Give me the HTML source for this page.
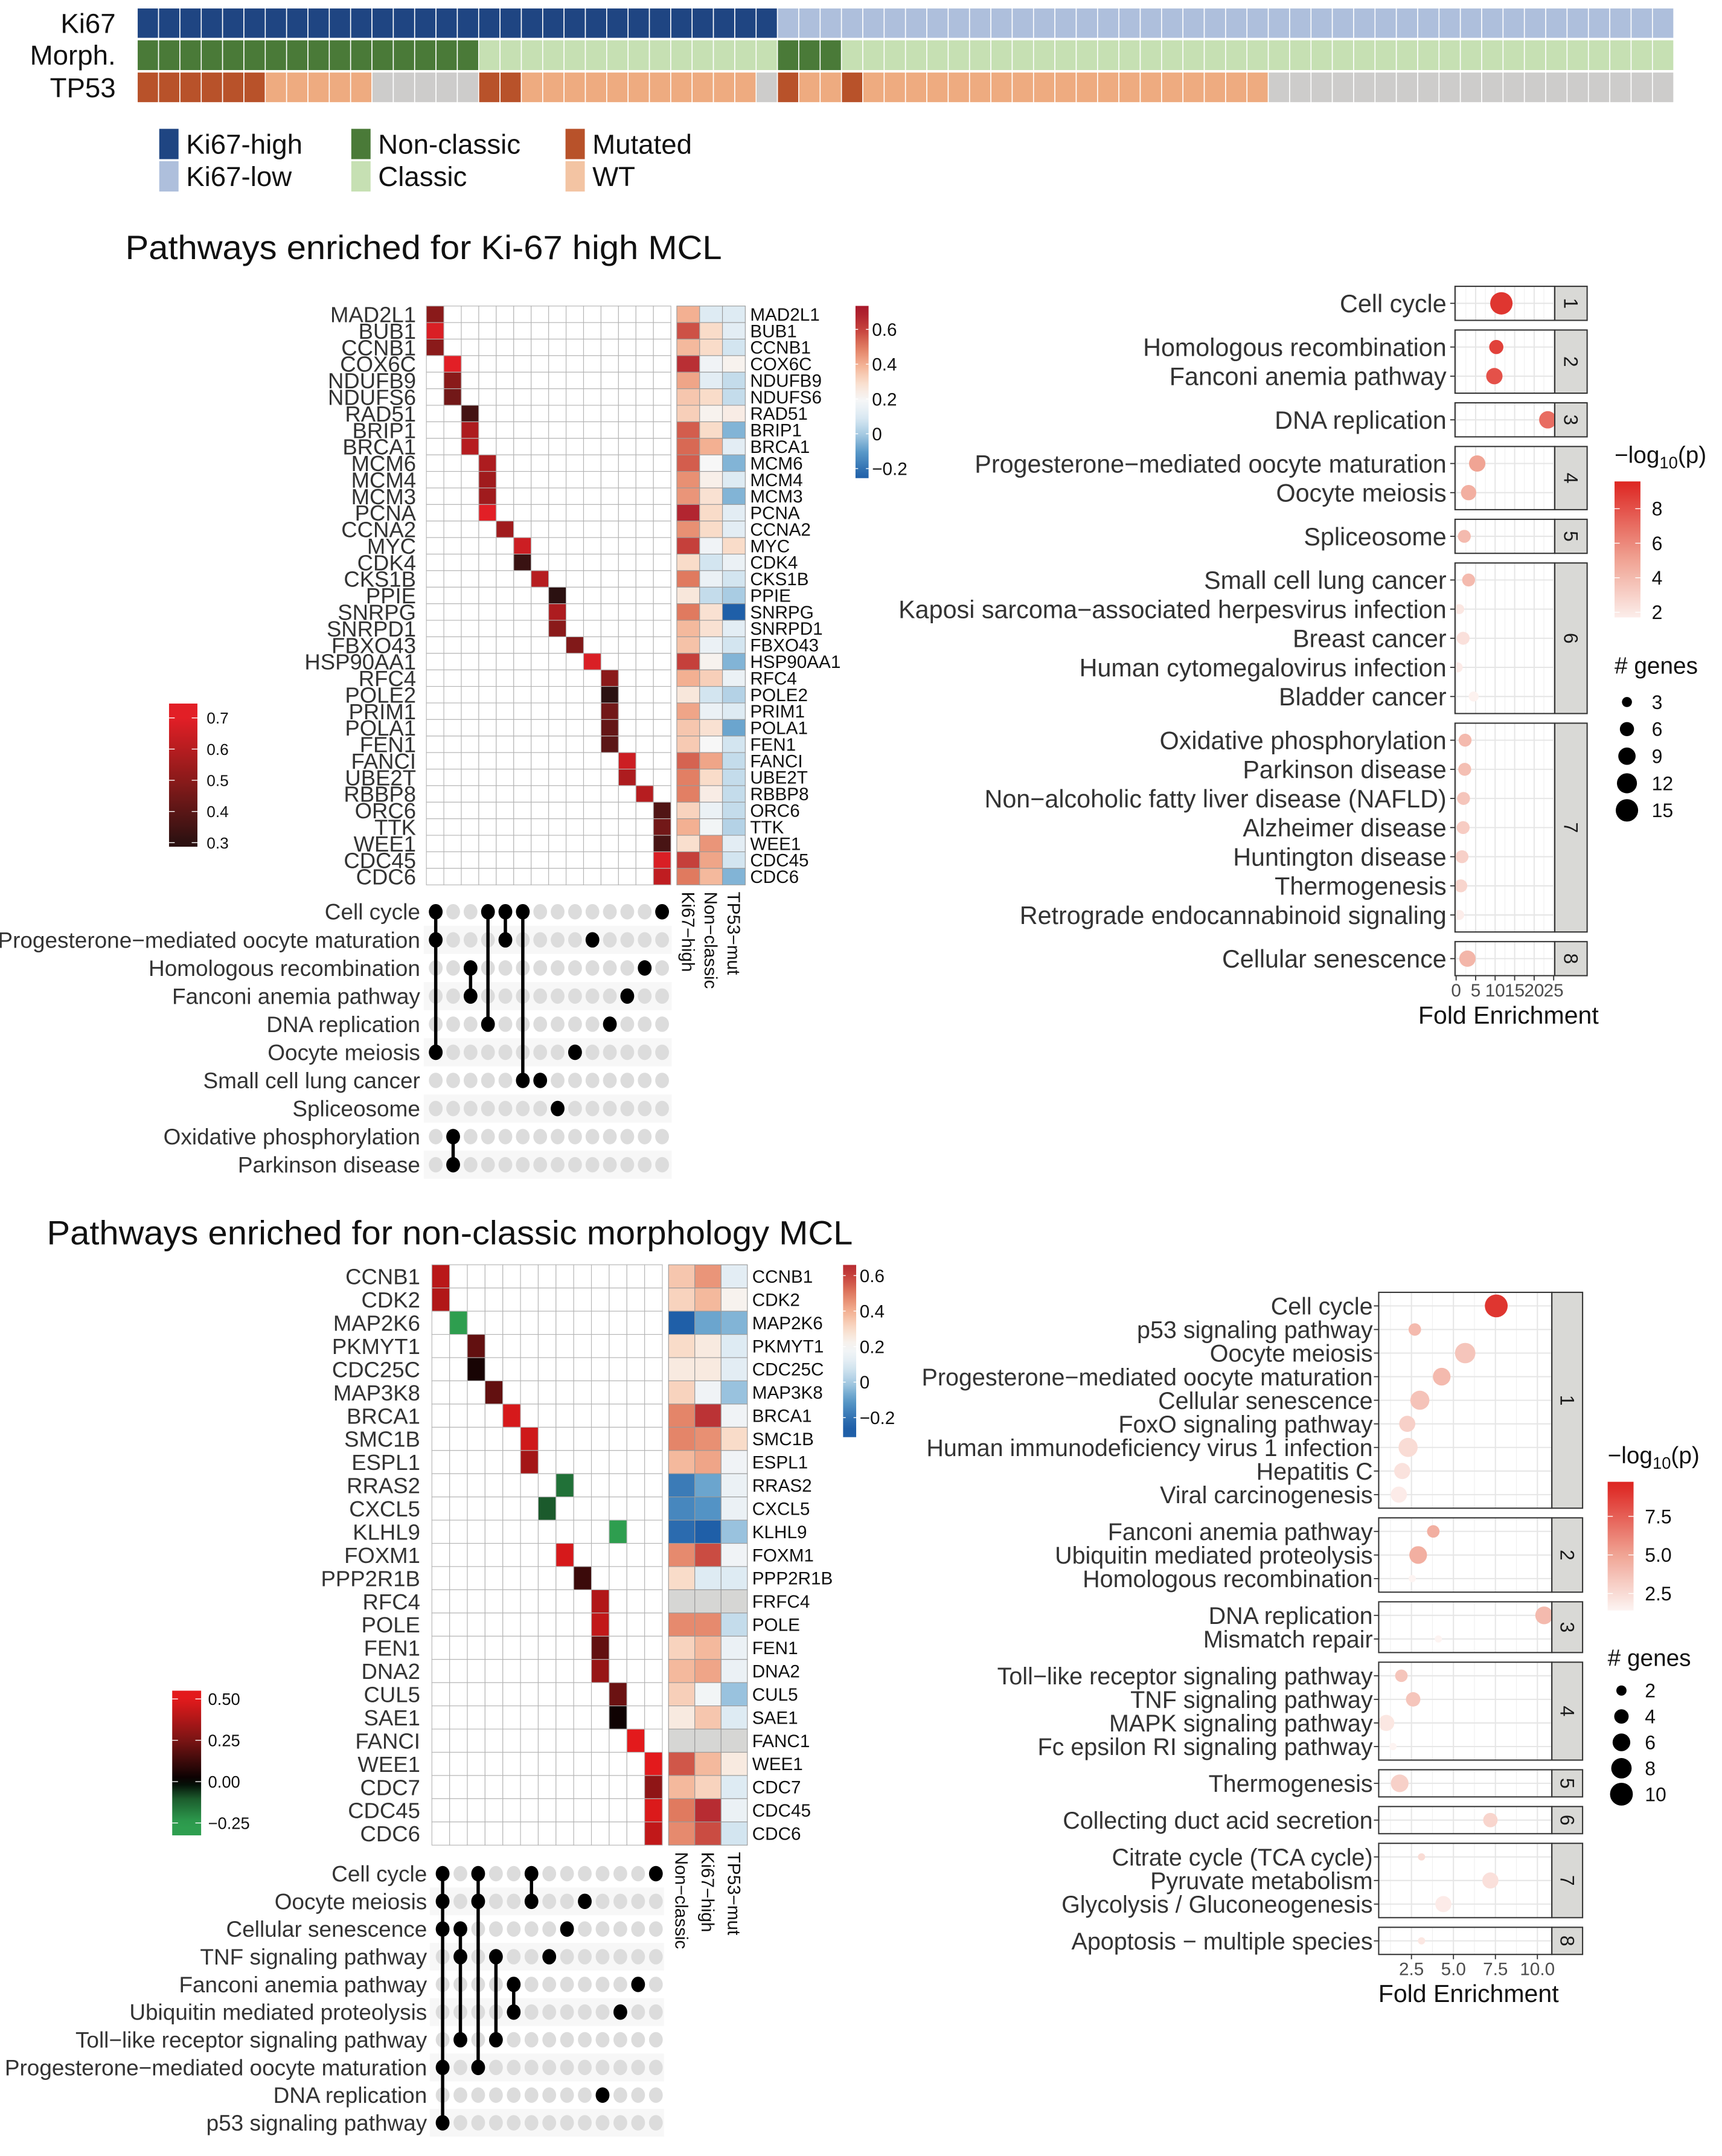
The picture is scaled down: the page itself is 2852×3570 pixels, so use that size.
<!DOCTYPE html>
<html><head><meta charset="utf-8">
<style>
body{margin:0;background:#fff}
svg{display:block}
text{font-family:"Liberation Sans",Arial,sans-serif}
</style></head>
<body>
<svg id="fig" width="2852" height="3570" viewBox="0 0 1250 1564.7" preserveAspectRatio="none" xmlns="http://www.w3.org/2000/svg">
<defs id="defs"></defs>
<rect x="0" y="0" width="1250" height="1565" fill="#fff"/>
<g id="root"></g>
</svg>
<script>
// ---------- top annotation data (runs of samples) ----------
const ki67Runs = [['high',30],['low',42]];
const morphRuns = [['non',16],['cls',14],['non',3],['cls',39]];
const tp53Runs = [['mut',6],['wt',5],['na',5],['mut',2],['wt',11],['na',1],['mut',1],['wt',2],['mut',1],['wt',19],['na',19]];

// ---------- heatmap 1 ----------
const h1Genes = ['MAD2L1','BUB1','CCNB1','COX6C','NDUFB9','NDUFS6','RAD51','BRIP1','BRCA1','MCM6','MCM4','MCM3','PCNA','CCNA2','MYC','CDK4','CKS1B','PPIE','SNRPG','SNRPD1','FBXO43','HSP90AA1','RFC4','POLE2','PRIM1','POLA1','FEN1','FANCI','UBE2T','RBBP8','ORC6','TTK','WEE1','CDC45','CDC6'];
const h1Col = [0,0,0,1,1,1,2,2,2,3,3,3,3,4,5,5,6,7,7,7,8,9,10,10,10,10,10,11,11,12,13,13,13,13,13];
const h1Corr = [0.5,0.68,0.5,0.7,0.5,0.45,0.35,0.58,0.6,0.58,0.55,0.55,0.7,0.55,0.65,0.33,0.6,0.3,0.58,0.5,0.48,0.68,0.5,0.3,0.45,0.42,0.4,0.65,0.58,0.6,0.38,0.45,0.36,0.68,0.62];
const h1Ki67 = [0.4,0.57,0.38,0.65,0.42,0.35,0.33,0.55,0.53,0.55,0.46,0.45,0.68,0.46,0.6,0.3,0.5,0.26,0.5,0.38,0.36,0.6,0.4,0.26,0.42,0.35,0.34,0.54,0.49,0.49,0.32,0.4,0.29,0.6,0.5];
const h1NonCl = [0.1,0.3,0.3,0.17,0.12,0.3,0.22,0.3,0.4,0.2,0.23,0.28,0.3,0.3,0.17,0.08,0.15,0.05,0.28,0.28,0.15,0.22,0.33,0.08,0.15,0.28,0.2,0.42,0.3,0.24,0.15,0.18,0.45,0.42,0.38];
const h1Tp53 = [0.1,0.12,0.08,0.22,0.05,0.05,0.24,-0.05,0.12,-0.05,0.1,-0.05,0.12,0.12,0.3,0.15,0.08,0.0,-0.25,0.12,0.08,-0.05,0.15,0.02,0.1,-0.08,0.08,0.05,0.05,0.05,0.05,0.02,0.12,0.08,-0.05];
const h1AnnoLabels = ['Ki67−high','Non−classic','TP53−mut'];

// ---------- upset 1 ----------
const u1Terms = ['Cell cycle','Progesterone−mediated oocyte maturation','Homologous recombination','Fanconi anemia pathway','DNA replication','Oocyte meiosis','Small cell lung cancer','Spliceosome','Oxidative phosphorylation','Parkinson disease'];
const u1Sets = [[0,3,4,5,13],[0,4,9],[2,12],[2,11],[3,10],[0,8],[5,6],[7],[1],[1]];

// ---------- dot plot 1 ----------
const d1Terms = ['Cell cycle','Homologous recombination','Fanconi anemia pathway','DNA replication','Progesterone−mediated oocyte maturation','Oocyte meiosis','Spliceosome','Small cell lung cancer','Kaposi sarcoma−associated herpesvirus infection','Breast cancer','Human cytomegalovirus infection','Bladder cancer','Oxidative phosphorylation','Parkinson disease','Non−alcoholic fatty liver disease (NAFLD)','Alzheimer disease','Huntington disease','Thermogenesis','Retrograde endocannabinoid signaling','Cellular senescence'];
const d1Cluster = [1,2,2,3,4,4,5,6,6,6,6,6,7,7,7,7,7,7,7,8];
const d1FE = [11.6,10.3,9.8,23.5,5.4,3.2,2.1,3.2,0.8,1.8,0.4,4.5,2.3,2.2,1.9,1.8,1.5,1.2,0.8,2.9];
const d1LogP = [9,8.6,8,7,5,4.5,4,4,2,2.3,1.8,1.5,4,3.8,3.5,3.2,3,2.8,1.7,4.2];
const d1Genes = [15,6,8,9,8,7,5,5,3,5,3,3,5,5,5,5,5,5,3,8];
const d1XTicks = [0,5,10,15,20,25];
const d1ColorTicks = [2,4,6,8];
const d1SizeTicks = [3,6,9,12,15];

// ---------- heatmap 2 ----------
const h2Genes = ['CCNB1','CDK2','MAP2K6','PKMYT1','CDC25C','MAP3K8','BRCA1','SMC1B','ESPL1','RRAS2','CXCL5','KLHL9','FOXM1','PPP2R1B','RFC4','POLE','FEN1','DNA2','CUL5','SAE1','FANCI','WEE1','CDC7','CDC45','CDC6'];
const h2RightLabels = ['CCNB1','CDK2','MAP2K6','PKMYT1','CDC25C','MAP3K8','BRCA1','SMC1B','ESPL1','RRAS2','CXCL5','KLHL9','FOXM1','PPP2R1B','FRFC4','POLE','FEN1','DNA2','CUL5','SAE1','FANC1','WEE1','CDC7','CDC45','CDC6'];
const h2Col = [0,0,1,2,2,3,4,5,5,7,6,10,7,8,9,9,9,9,10,10,11,12,12,12,12];
const h2Corr = [0.4,0.38,-0.25,0.2,0.05,0.2,0.47,0.45,0.35,-0.15,-0.1,-0.25,0.47,0.12,0.38,0.42,0.2,0.32,0.22,0.03,0.5,0.52,0.3,0.48,0.42];
const h2NonCl = [0.35,0.32,-0.25,0.3,0.25,0.32,0.48,0.48,0.38,-0.18,-0.15,-0.22,0.47,0.3,null,0.47,0.32,0.38,0.33,0.25,null,0.56,0.38,0.5,0.47];
const h2Ki67 = [0.45,0.38,-0.08,0.25,0.25,0.17,0.64,0.46,0.42,-0.08,-0.12,-0.25,0.58,0.1,null,0.47,0.38,0.42,0.18,0.35,null,0.38,0.32,0.66,0.58];
const h2Tp53 = [0.12,0.22,-0.05,0.1,0.12,-0.02,0.17,0.3,0.17,0.15,0.15,-0.02,0.17,0.1,null,0.05,0.15,0.15,-0.02,0.1,null,0.25,0.1,0.15,0.08];
const h2AnnoLabels = ['Non−classic','Ki67−high','TP53−mut'];

// ---------- upset 2 ----------
const u2Terms = ['Cell cycle','Oocyte meiosis','Cellular senescence','TNF signaling pathway','Fanconi anemia pathway','Ubiquitin mediated proteolysis','Toll−like receptor signaling pathway','Progesterone−mediated oocyte maturation','DNA replication','p53 signaling pathway'];
const u2Sets = [[0,2,5,12],[0,2,5,8],[0,1,7],[1,3,6],[4,11],[4,10],[1,3],[0,2],[9],[0]];

// ---------- dot plot 2 ----------
const d2Terms = ['Cell cycle','p53 signaling pathway','Oocyte meiosis','Progesterone−mediated oocyte maturation','Cellular senescence','FoxO signaling pathway','Human immunodeficiency virus 1 infection','Hepatitis C','Viral carcinogenesis','Fanconi anemia pathway','Ubiquitin mediated proteolysis','Homologous recombination','DNA replication','Mismatch repair','Toll−like receptor signaling pathway','TNF signaling pathway','MAPK signaling pathway','Fc epsilon RI signaling pathway','Thermogenesis','Collecting duct acid secretion','Citrate cycle (TCA cycle)','Pyruvate metabolism','Glycolysis / Gluconeogenesis','Apoptosis − multiple species'];
const d2Cluster = [1,1,1,1,1,1,1,1,1,2,2,2,3,3,4,4,4,4,5,6,7,7,7,8];
const d2FE = [7.55,2.7,5.7,4.3,3.0,2.25,2.3,1.95,1.75,3.8,2.9,2.55,10.4,4.1,1.9,2.6,1.0,1.4,1.8,7.2,3.1,7.2,4.4,3.1];
const d2LogP = [9,4,3.5,4,3.6,3,2.5,2.2,1.8,4.5,4.5,1.2,4,1.3,3.5,3.5,2,1.3,3,2.8,2.5,2.3,1.8,2];
const d2Genes = [10,3,8,6,7,5,7,5,5,3,6,1,6,1,3,4,5,1,6,4,1,5,5,1];
const d2XTicks = [2.5,5.0,7.5,10.0];
const d2ColorTicks = [2.5,5.0,7.5];
const d2SizeTicks = [2,4,6,8,10];

// ================= drawing =================
const NS = 'http://www.w3.org/2000/svg';
const root = document.getElementById('root');
const defs = document.getElementById('defs');
function mk(tag, attrs, parent){const e=document.createElementNS(NS,tag);for(const k in attrs)e.setAttribute(k,attrs[k]);(parent||root).appendChild(e);return e;}
function txt(s,x,y,size,anchor,extra,parent){const t=mk('text',Object.assign({x:x,y:y,'font-size':size,'text-anchor':anchor||'start',fill:'#333'},extra||{}),parent);t.textContent=s;return t;}
function hex(c){return [parseInt(c.substr(1,2),16),parseInt(c.substr(3,2),16),parseInt(c.substr(5,2),16)];}
function interp(stops,v){
  if(v<=stops[0][0])return stops[0][1];
  if(v>=stops[stops.length-1][0])return stops[stops.length-1][1];
  for(let i=0;i<stops.length-1;i++){const a=stops[i],b=stops[i+1];if(v>=a[0]&&v<=b[0]){const t=(v-a[0])/(b[0]-a[0]);const A=hex(a[1]),B=hex(b[1]);return 'rgb('+A.map((x,j)=>Math.round(x+(B[j]-x)*t)).join(',')+')';}}
}
const DIV = [[-0.25,'#1f5fa8'],[-0.1,'#5b9bc9'],[0.0,'#a9cce3'],[0.1,'#deebf3'],[0.2,'#f7f7f7'],[0.3,'#f9dcc9'],[0.4,'#f3b092'],[0.5,'#e07a5f'],[0.6,'#c5403b'],[0.72,'#a8182a']];
const RED1 = [[0.3,'#2b1111'],[0.5,'#8a1a1a'],[0.7,'#e21f26']];
const RG = [[-0.25,'#2e9e4f'],[-0.1,'#1b5a2c'],[0,'#000000'],[0.25,'#7a1414'],[0.5,'#e31a1c']];
const PCOL = [[1.4,'#fdf4f2'],[5,'#f0a494'],[9.6,'#dd2521']];
let gradN=0;
function vGrad(stops,vTop,vBot){
  const id='g'+(gradN++);
  const g=mk('linearGradient',{id:id,x1:0,y1:0,x2:0,y2:1},defs);
  for(let i=0;i<=20;i++){const v=vTop+(vBot-vTop)*i/20;mk('stop',{offset:(i*5)+'%','stop-color':interp(stops,v)},g);}
  return 'url(#'+id+')';
}

// ---- top annotation ----
(function(){
  const x0=99.6,x1=1215,n=72,cw=(x1-x0)/n;
  const rows=[[ki67Runs,5.8,22,{high:'#1f4582',low:'#aebfdc'},'ki67'],[morphRuns,28.9,22.3,{non:'#4a7a38',cls:'#c6e0b3'},'morphology'],[tp53Runs,52.3,22.2,{mut:'#b8522a',wt:'#eeab80',na:'#cdcccb'},'tp53']];
  const g=mk('g',{});
  
  
  rows.forEach(function(r){
    let k=0;
    r[0].forEach(function(run){
      for(let j=0;j<run[1];j++){
        const c=mk('rect',{x:x0+k*cw,y:r[1],width:cw,height:r[2],fill:r[3][run[0]],stroke:'#fff','stroke-width':0.7},g);
        
        
        k++;
      }
    });
  });
  const labs=[['Ki67',24],['Morph.',47],['TP53',70.5]];
  labs.forEach(function(l){const t=txt(l[0],84,l[1],20,'end',{fill:'#111'});
    
    });
  const leg=[[115.6,93.5,'#1f4582','Ki67-high'],[115.6,117,'#aebfdc','Ki67-low'],[255,93.5,'#4a7a38','Non-classic'],[255,117,'#c6e0b3','Classic'],[410.5,93.5,'#b8522a','Mutated'],[410.5,117,'#f3c4a3','WT']];
  leg.forEach(function(l){
    const s=mk('rect',{x:l[0],y:l[1],width:14,height:22,fill:l[2]});
    
    
    const t=txt(l[3],l[0]+19.5,l[1]+18,20,'start',{fill:'#111'});
    
    
  });
})();

// ---- titles ----
(function(){
  const t1=txt('Pathways enriched for Ki-67 high MCL',91,188,24.5,'start',{fill:'#111',textLength:433,lengthAdjust:'spacingAndGlyphs'});
  
  
  const t2=txt('Pathways enriched for non-classic morphology MCL',34,903,24.5,'start',{fill:'#111',textLength:585,lengthAdjust:'spacingAndGlyphs'});
  
  
})();

// ---- gene heatmap ----
function geneHeatmap(cfg){
  const g=mk('g',{});
  
  
  const n=cfg.genes.length, rh=(cfg.y1-cfg.y0)/n, cw=(cfg.x1-cfg.x0)/cfg.ncol;
  for(let i=0;i<n;i++){
    for(let j=0;j<cfg.ncol;j++){
      const on=cfg.col[i]===j;
      const c=mk('rect',{x:cfg.x0+j*cw,y:cfg.y0+i*rh,width:cw,height:rh,fill:on?interp(cfg.scale,cfg.corr[i]):'#fff',stroke:'#b5b5b5','stroke-width':0.5},g);
      
      
    }
    const lt=txt(cfg.genes[i],cfg.lx,cfg.y0+(i+0.5)*rh+cfg.lsz*0.36,cfg.lsz,'end',{},g);
    
    
    const aw=(cfg.ax1-cfg.ax0)/3;
    [cfg.a1,cfg.a2,cfg.a3].forEach(function(arr,j){
      const v=arr[i];
      const c=mk('rect',{x:cfg.ax0+j*aw,y:cfg.y0+i*rh,width:aw,height:rh,fill:v===null?'#d6d6d4':interp(DIV,v),stroke:'#9a9a9a','stroke-width':0.5},g);
      
      
    });
    const rt=txt(cfg.rlabels[i],cfg.rx,cfg.y0+(i+0.5)*rh+4.6,13,'start',{fill:'#111'},g);
    
    
  }
  const aw=(cfg.ax1-cfg.ax0)/3;
  cfg.alabels.forEach(function(s,j){
    const x=cfg.ax0+(j+0.5)*aw-4.6, y=cfg.y1+5;
    const t=txt(s,x,y,13,'start',{fill:'#111',transform:'rotate(90 '+x+' '+y+')'},g);
    
    
  });
}
geneHeatmap({name:'gene-heatmap-ki67',genes:h1Genes,rlabels:h1Genes,col:h1Col,corr:h1Corr,scale:RED1,ncol:14,x0:309.5,x1:487,y0:222.1,y1:642.2,lx:302,lsz:16,ax0:491.3,ax1:541,a1:h1Ki67,a2:h1NonCl,a3:h1Tp53,rx:544.5,alabels:h1AnnoLabels});
geneHeatmap({name:'gene-heatmap-morphology',genes:h2Genes,rlabels:h2RightLabels,col:h2Col,corr:h2Corr,scale:RG,ncol:13,x0:313.5,x1:480.8,y0:917.9,y1:1339.1,lx:305,lsz:16,ax0:485.3,ax1:542.5,a1:h2NonCl,a2:h2Ki67,a3:h2Tp53,rx:546,alabels:h2AnnoLabels});

// ---- colorbars ----
function colorbar(name,x,y,w,h,stops,vTop,vBot,ticks,fmt,lx,fs){
  const g=mk('g',{});
  
  
  mk('rect',{x:x,y:y,width:w,height:h,fill:vGrad(stops,vTop,vBot)},g);
  ticks.forEach(function(v){
    const ty=y+(vTop-v)/(vTop-vBot)*h;
    mk('line',{x1:x,x2:x+w*0.2,y1:ty,y2:ty,stroke:'#fff','stroke-width':0.6},g);
    mk('line',{x1:x+w*0.8,x2:x+w,y1:ty,y2:ty,stroke:'#fff','stroke-width':0.6},g);
    const t=txt(fmt(v),lx,ty+fs*0.36,fs,'start',{fill:'#111'},g);
    
    
  });
}
colorbar('correlation-colorbar-1',621,222,9.5,125,DIV,0.735,-0.255,[0.6,0.4,0.2,0,-0.2],function(v){return v===0?'0':(v<0?'−'+(-v):String(v));},633,13);
colorbar('cluster-colorbar-1',122.7,510.6,20.6,103.9,RED1,0.746,0.287,[0.7,0.6,0.5,0.4,0.3],function(v){return v.toFixed(1);},150,11.5);
colorbar('correlation-colorbar-2',612,918,9.5,125,DIV,0.66,-0.31,[0.6,0.4,0.2,0,-0.2],function(v){return v===0?'0':(v<0?'−'+(-v):String(v));},624,13);
colorbar('cluster-colorbar-2',125,1227,21,105,RG,0.55,-0.325,[0.5,0.25,0,-0.25],function(v){return v<0?'−'+(-v).toFixed(2):v.toFixed(2);},151,12);

// ---- upset matrices ----
function upset(cfg){
  const g=mk('g',{});
  
  
  cfg.terms.forEach(function(term,i){
    const y=cfg.y0+i*cfg.dy;
    if(i%2===1){mk('rect',{x:cfg.bx0,y:y-cfg.dy/2,width:cfg.bx1-cfg.bx0,height:cfg.dy,fill:'#f7f7f7'},g);}
    const t=txt(term,cfg.lx,y+5.7,16.2,'end',{},g);
    
    
  });
  cfg.terms.forEach(function(term,i){
    const y=cfg.y0+i*cfg.dy;
    for(let j=0;j<cfg.ncol;j++){
      const d=mk('ellipse',{cx:cfg.x0+j*cfg.dx,cy:y,rx:5,ry:5.6,fill:'#dcdcdc'},g);
      
      
    }
  });
  for(let j=0;j<cfg.ncol;j++){
    const rows=[];
    cfg.sets.forEach(function(s,i){if(s.indexOf(j)>=0)rows.push(i);});
    if(rows.length>1){
      const l=mk('line',{x1:cfg.x0+j*cfg.dx,x2:cfg.x0+j*cfg.dx,y1:cfg.y0+Math.min.apply(null,rows)*cfg.dy,y2:cfg.y0+Math.max.apply(null,rows)*cfg.dy,stroke:'#000','stroke-width':2.4},g);
      
      
    }
    rows.forEach(function(i){
      const d=mk('ellipse',{cx:cfg.x0+j*cfg.dx,cy:cfg.y0+i*cfg.dy,rx:5,ry:5.6,fill:'#000'},g);
      
      
    });
  }
}
upset({name:'pathway-matrix-ki67',terms:u1Terms,sets:u1Sets,ncol:14,x0:316.3,dx:12.64,y0:661.7,dy:20.4,lx:305,bx0:307.6,bx1:487.6});
upset({name:'pathway-matrix-morphology',terms:u2Terms,sets:u2Sets,ncol:13,x0:321.3,dx:12.9,y0:1359.8,dy:20.09,lx:310,bx0:312,bx1:482});

// ---- dot plots ----
function dotplot(cfg){
  const g=mk('g',{});
  
  
  const X=function(v){return cfg.xz+v*cfg.xs;};
  const clusters=[];
  cfg.cluster.forEach(function(c,i){if(clusters.indexOf(c)<0)clusters.push(c);});
  let y=cfg.y0, lastBottom=0;
  const clipId='clip'+cfg.name;
  const cp=mk('clipPath',{id:clipId},defs);
  clusters.forEach(function(c){
    const idx=[];cfg.cluster.forEach(function(cc,i){if(cc===c)idx.push(i);});
    const h=(idx.length-1)*cfg.dy+2*cfg.pad;
    mk('rect',{x:cfg.px0,y:y,width:cfg.px1-cfg.px0,height:h},cp);
    const p=mk('rect',{x:cfg.px0,y:y,width:cfg.px1-cfg.px0,height:h,fill:'#fff'},g);
    
    
    cfg.minor.forEach(function(v){mk('line',{x1:X(v),x2:X(v),y1:y,y2:y+h,stroke:'#f0f0f0','stroke-width':0.5,'clip-path':'url(#'+clipId+')'},g);});
    cfg.xticks.forEach(function(v){mk('line',{x1:X(v),x2:X(v),y1:y,y2:y+h,stroke:'#e6e6e6','stroke-width':0.9,'clip-path':'url(#'+clipId+')'},g);});
    idx.forEach(function(i,k){
      const ry=y+cfg.pad+k*cfg.dy;
      mk('line',{x1:cfg.px0,x2:cfg.px1,y1:ry,y2:ry,stroke:'#e6e6e6','stroke-width':0.9},g);
      mk('line',{x1:cfg.px0-3.5,x2:cfg.px0,y1:ry,y2:ry,stroke:'#333','stroke-width':0.8},g);
      const t=txt(cfg.terms[i],cfg.lx,ry+cfg.fs*0.36,cfg.fs,'end',{},g);
      
      
    });
    idx.forEach(function(i,k){
      const ry=y+cfg.pad+k*cfg.dy;
      const d=mk('circle',{cx:X(cfg.fe[i]),cy:ry,r:cfg.rk*Math.sqrt(cfg.genes[i]),fill:interp(PCOL,cfg.logp[i]),'clip-path':'url(#'+clipId+')'},g);
      
      
    });
    mk('rect',{x:cfg.px0,y:y,width:cfg.px1-cfg.px0,height:h,fill:'none',stroke:'#333','stroke-width':0.9},g);
    const s=mk('rect',{x:cfg.px1,y:y,width:cfg.sx1-cfg.px1,height:h,fill:'#d9d9d6',stroke:'#333','stroke-width':0.9},g);
    
    
    const cx=(cfg.px1+cfg.sx1)/2-5, cy=y+h/2;
    const st=txt(String(c),cx,cy,14,'middle',{fill:'#1a1a1a',transform:'rotate(90 '+cx+' '+cy+')'},g);
    
    
    lastBottom=y+h;
    y+=h+cfg.gap;
  });
  cfg.xticks.forEach(function(v){
    mk('line',{x1:X(v),x2:X(v),y1:lastBottom,y2:lastBottom+3.5,stroke:'#333','stroke-width':0.8},g);
    const t=txt(cfg.xfmt(v),X(v),lastBottom+15,13,'middle',{fill:'#4d4d4d'},g);
    
    
  });
  const xt=txt('Fold Enrichment',cfg.xtx,cfg.xty,18,'middle',{fill:'#111'},g);
  
  
  const lt=mk('text',{x:cfg.lgx,y:cfg.lgTitleY,'font-size':17,fill:'#111'},g);
  
  
  const a=document.createElementNS(NS,'tspan');a.textContent='−log';lt.appendChild(a);
  const b=document.createElementNS(NS,'tspan');b.setAttribute('font-size','12');b.setAttribute('dy','4');b.textContent='10';lt.appendChild(b);
  const c2=document.createElementNS(NS,'tspan');c2.setAttribute('dy','-4');c2.textContent='(p)';lt.appendChild(c2);
  const bar=mk('rect',{x:cfg.lgx,y:cfg.barY0,width:cfg.barW,height:cfg.barY1-cfg.barY0,fill:vGrad(PCOL,cfg.barVTop,cfg.barVBot)},g);
  
  
  cfg.cticks.forEach(function(v){
    const ty=cfg.barY0+(cfg.barVTop-v)/(cfg.barVTop-cfg.barVBot)*(cfg.barY1-cfg.barY0);
    mk('line',{x1:cfg.lgx,x2:cfg.lgx+cfg.barW*0.2,y1:ty,y2:ty,stroke:'#fff','stroke-width':0.6},g);
    mk('line',{x1:cfg.lgx+cfg.barW*0.8,x2:cfg.lgx+cfg.barW,y1:ty,y2:ty,stroke:'#fff','stroke-width':0.6},g);
    const t=txt(cfg.cfmt(v),cfg.lgLabX,ty+5,14,'start',{fill:'#111'},g);
    
    
  });
  const st=txt('# genes',cfg.lgx,cfg.sizeTitleY,17,'start',{fill:'#111'},g);
  
  
  cfg.sticks.forEach(function(v,k){
    const yy=cfg.sizeY0+k*cfg.sizeDy;
    const d=mk('circle',{cx:cfg.sizeCx,cy:yy,r:cfg.rk*Math.sqrt(v),fill:'#000'},g);
    
    
    const t=txt(String(v),cfg.lgLabX,yy+5,14,'start',{fill:'#111'},g);
    
    
  });
}
dotplot({name:'enrichment-dotplot-ki67',terms:d1Terms,cluster:d1Cluster,fe:d1FE,logp:d1LogP,genes:d1Genes,
  xz:1057,xs:2.832,xticks:d1XTicks,minor:[2.5,7.5,12.5,17.5,22.5],xfmt:function(v){return String(v);},
  px0:1056.2,px1:1128.6,sx1:1152.1,y0:207.8,dy:21.14,pad:12.35,gap:7,lx:1050,fs:18.1,rk:2.1,
  xtx:1095,xty:743,lgx:1172,lgTitleY:336,barY0:349.4,barY1:448.1,barW:18.8,barVTop:9.58,barVBot:1.7,cticks:d1ColorTicks,cfmt:function(v){return String(v);},lgLabX:1199,
  sizeTitleY:489,sticks:d1SizeTicks,sizeY0:509.5,sizeDy:19.65,sizeCx:1181});
dotplot({name:'enrichment-dotplot-morphology',terms:d2Terms,cluster:d2Cluster,fe:d2FE,logp:d2LogP,genes:d2Genes,
  xz:994.1,xs:12.19,xticks:d2XTicks,minor:[1.25,3.75,6.25,8.75],xfmt:function(v){return v.toFixed(1);},
  px0:1000.8,px1:1126.5,sx1:1148.8,y0:937.9,dy:17.12,pad:9.85,gap:7,lx:996.5,fs:17.3,rk:2.62,
  xtx:1066,xty:1453,lgx:1167,lgTitleY:1062,barY0:1075.4,barY1:1168.8,barW:18.8,barVTop:9.74,barVBot:1.4,cticks:d2ColorTicks,cfmt:function(v){return v.toFixed(1);},lgLabX:1194,
  sizeTitleY:1209,sticks:d2SizeTicks,sizeY0:1226.9,sizeDy:18.8,sizeCx:1177});
</script>
</body></html>
